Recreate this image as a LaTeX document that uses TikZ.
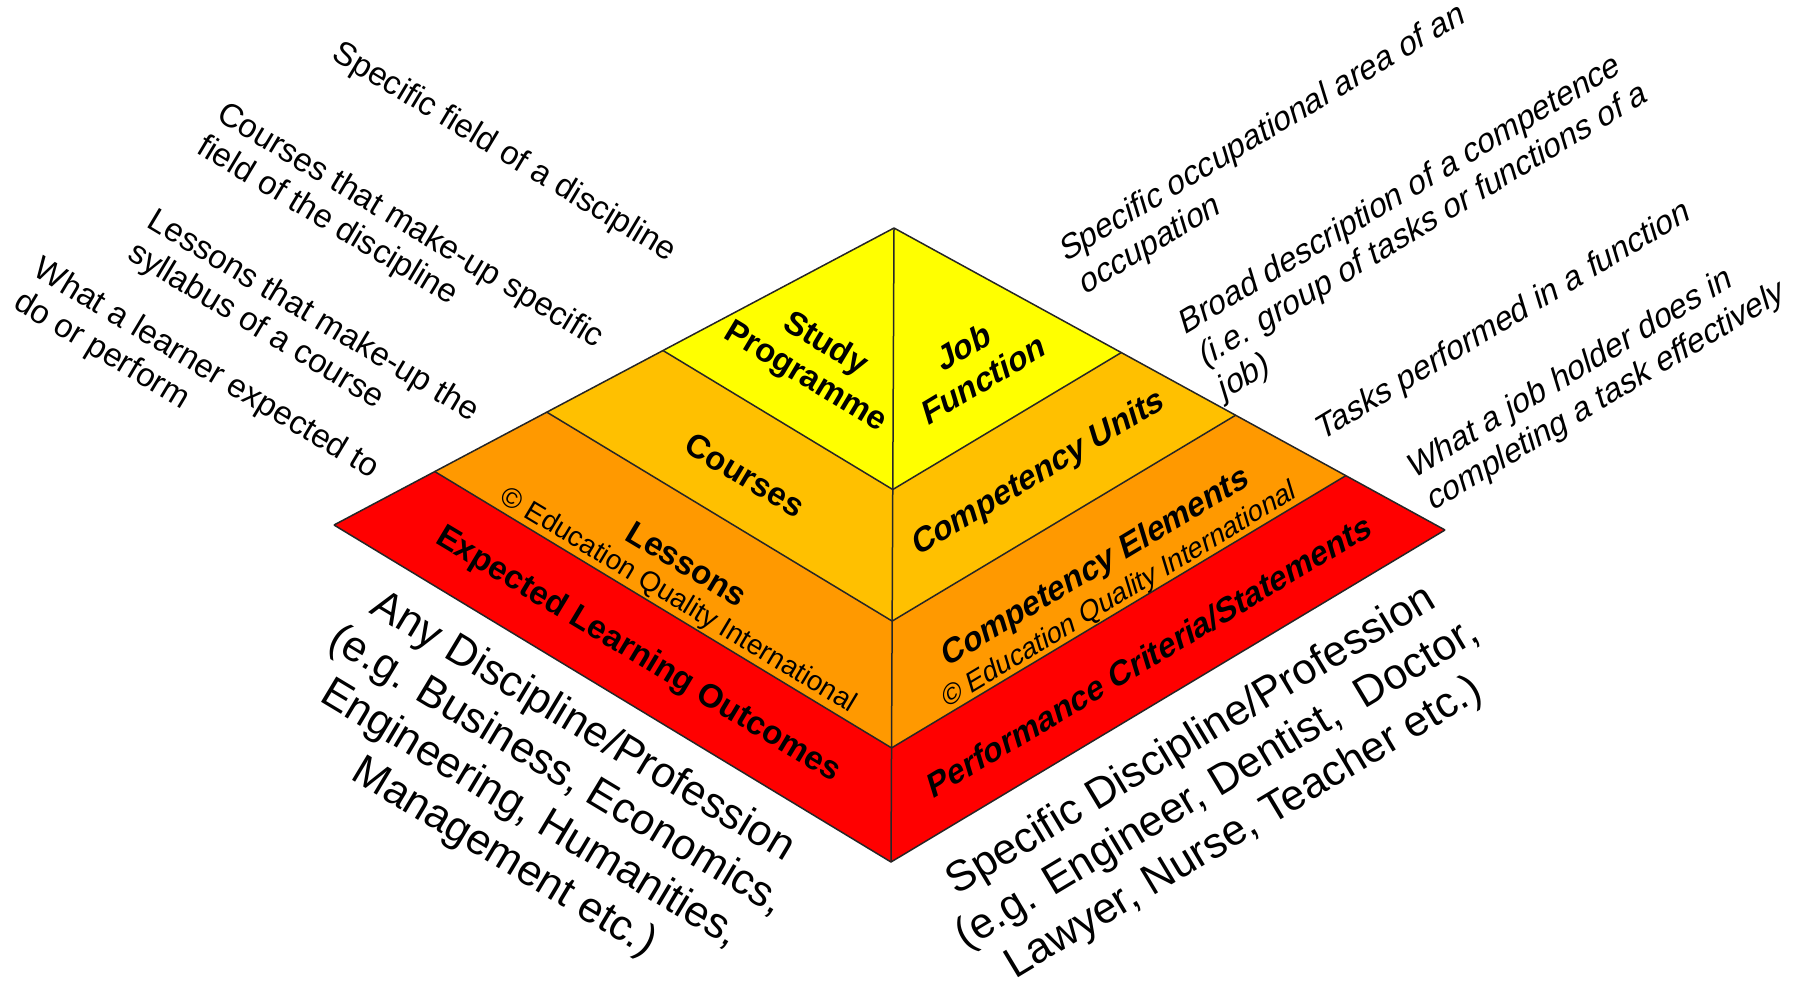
\documentclass[tikz,border=0pt]{standalone}
\usepackage{fontspec}
\setmainfont{Liberation Sans}
\newfontfamily\slantfont{Liberation Sans}[FakeSlant=0.25]
\usetikzlibrary{calc}

\definecolor{pyryellow}{RGB}{255,255,0}
\definecolor{pyramber}{RGB}{255,192,0}
\definecolor{pyrorange}{RGB}{255,153,0}
\definecolor{pyrred}{RGB}{255,0,0}

\begin{document}
\begin{tikzpicture}[x=1pt,y=-1pt,
  edge/.style={draw=black!85,line width=1.5pt,line join=round},
  level/.style={font=\fontsize{33}{38}\selectfont\bfseries,align=center,inner sep=0pt},
  eqi/.style={font=\fontsize{28}{32}\selectfont,inner sep=0pt},
  note/.style={font=\fontsize{33}{38}\selectfont,align=left,inner sep=0pt},
  field/.style={font=\fontsize{43}{51}\selectfont,align=center,inner sep=0pt},
  leftface/.style={rotate=-31},
  rightface/.style={rotate=31,execute at begin node=\slantfont},
  rightbase/.style={rotate=31}]

\useasboundingbox (0,0) rectangle (1796,980);

% corners of the pyramid
\coordinate (apex) at (894,228);
\coordinate (left) at (334,525);
\coordinate (right) at (1445,530);
\coordinate (bottom) at (891,862);

% bands, from the base up
\foreach \t/\c in {1/pyrred,0.82/pyrorange,0.62/pyramber,0.4125/pyryellow}{
  \fill[\c] (apex) -- ($(apex)!\t!(left)$) -- ($(apex)!\t!(bottom)$) -- ($(apex)!\t!(right)$) -- cycle;
  \draw[edge] ($(apex)!\t!(left)$) -- ($(apex)!\t!(bottom)$) -- ($(apex)!\t!(right)$);
}
\draw[edge] (left) -- (apex) -- (right);
\draw[edge] (apex) -- (bottom);

% education side
\node[level,leftface] (study) at (815,361) {Study\\Programme};
\node[level,leftface] (courses) at (745,475) {Courses};
\node[level,leftface] (lessons) at (687,564) {Lessons};
\node[eqi,leftface] (eqileft) at (678,601) {\textcopyright{} Education Quality International};
\node[level,leftface] (outcomes) at (638,655) {Expected Learning Outcomes};

% job side
\node[level,rightface] (job) at (971,364) {Job\\Function};
\node[level,rightface] (units) at (1037,475) {Competency Units};
\node[level,rightface] (elements) at (1094,569) {Competency Elements};
\node[eqi,rightface] (eqiright) at (1118,597) {\textcopyright{} Education Quality International};
\node[level,rightface] (criteria) at (1147,657) {Performance Criteria/Statements};

% descriptions
\node[note,leftface] (dstudy) at (504,153) {Specific field of a discipline};
\node[note,leftface] (dcourses) at (400,243) {Courses that make-up specific\\field of the discipline};
\node[note,leftface] (dlessons) at (303,333) {Lessons that make-up the\\syllabus of a course};
\node[note,leftface] (doutcomes) at (196,386) {What a learner expected to\\do or perform};

\node[note,rightface] (djob) at (1271,151) {Specific occupational area of an\\occupation};
\node[note,rightface] (dunits) at (1422,227) {Broad description of a competence\\(i.e. group of tasks or functions of a\\job)};
\node[note,rightface] (delements) at (1502,323) {Tasks performed in a function};
\node[note,rightface] (dcriteria) at (1595,382) {What a job holder does in\\completing a task effectively};

% fields
\node[field,leftface] (anyfield) at (543,793) {Any Discipline/Profession\\(e.g. Business, Economics,\\Engineering, Humanities,\\Management etc.)};
\node[field,rightbase] (onefield) at (1218,785) {Specific Discipline/Profession\\(e.g. Engineer, Dentist,~ Doctor,\\Lawyer, Nurse, Teacher etc.)};

\end{tikzpicture}
\end{document}
